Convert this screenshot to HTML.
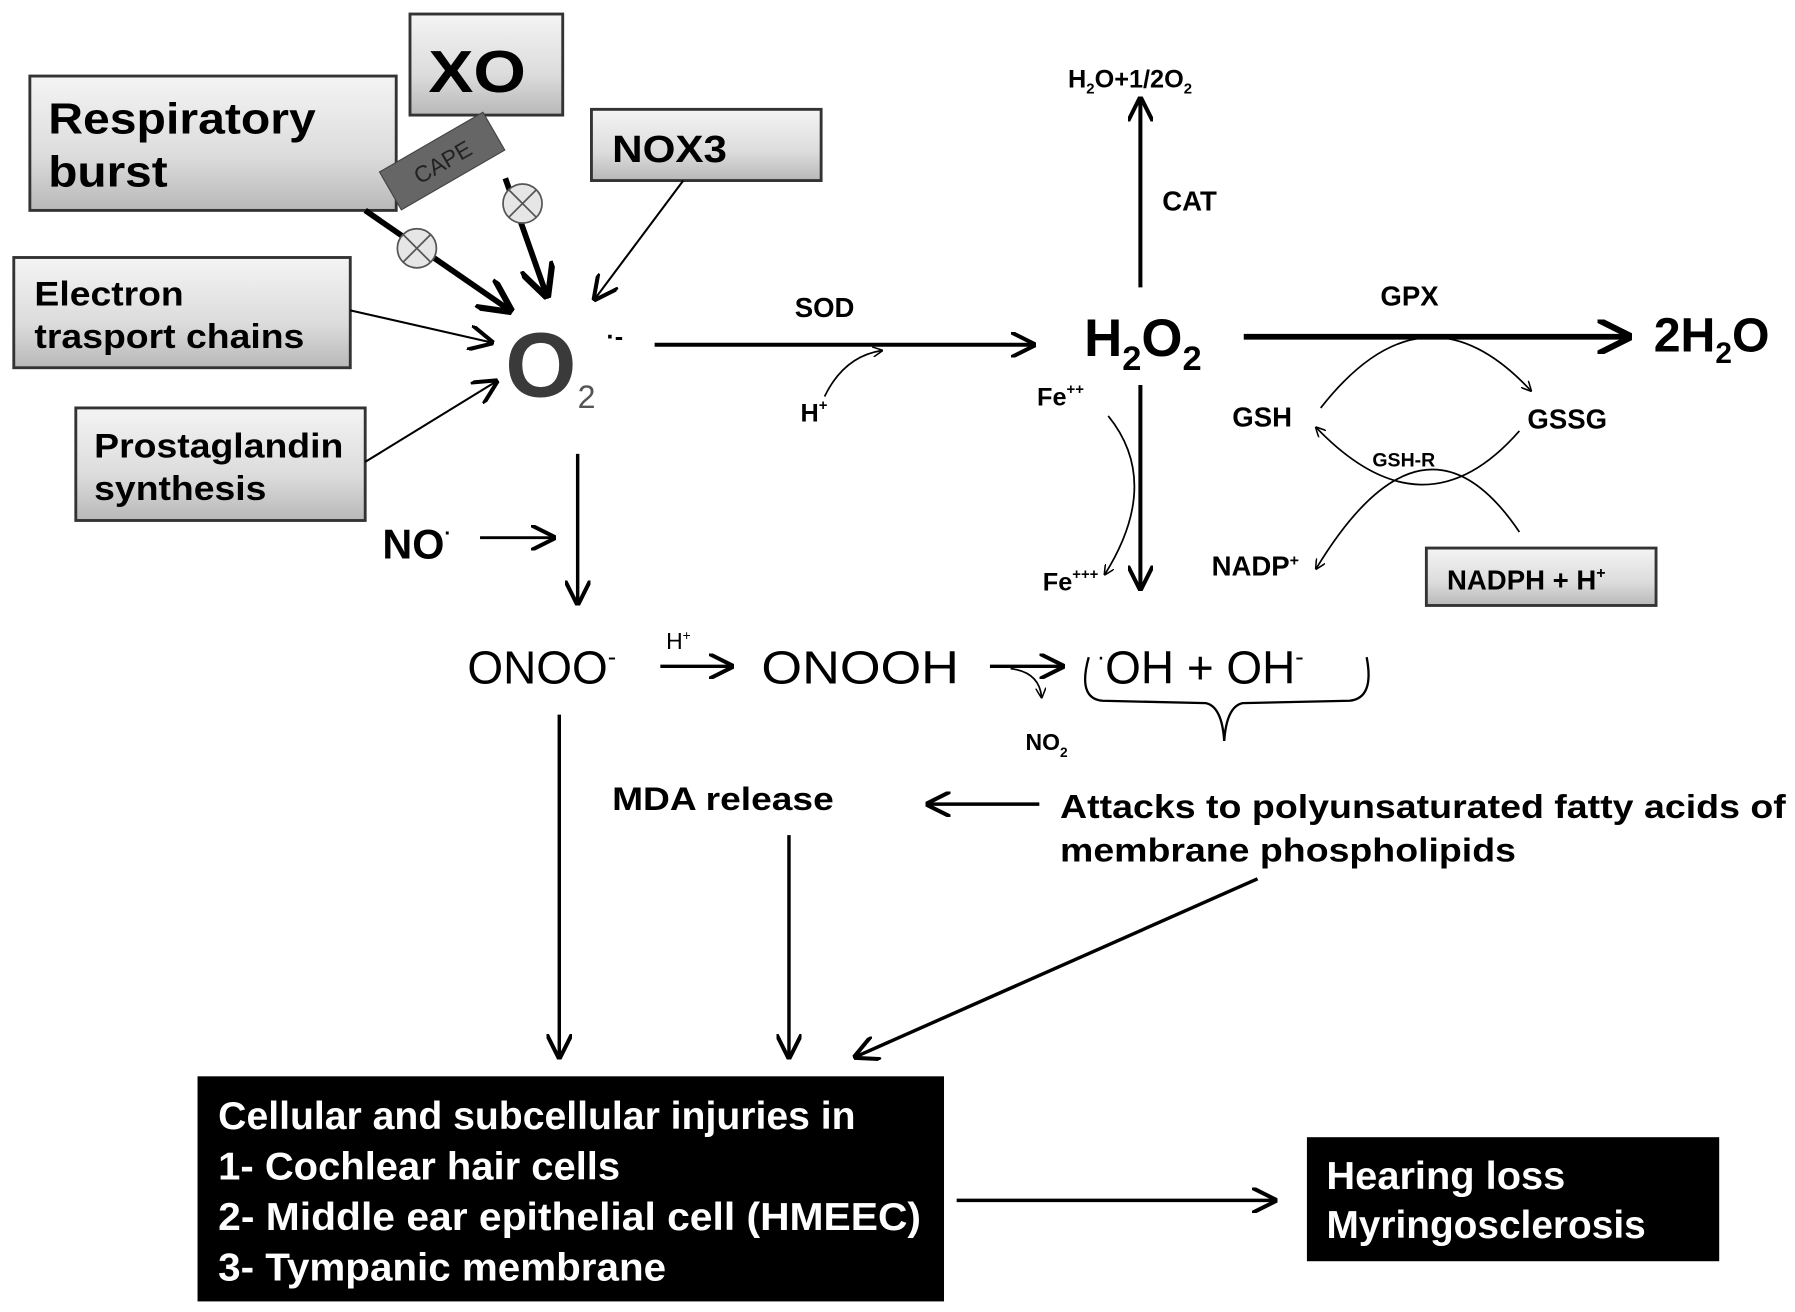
<!DOCTYPE html>
<html><head><meta charset="utf-8"><style>
html,body{margin:0;padding:0;background:#fff;}
svg{display:block;}
text{font-family:"Liberation Sans",Arial,sans-serif;}
.b{font-weight:bold;}
</style></head><body>
<svg width="1795" height="1312" viewBox="0 0 1563 1142" xmlns="http://www.w3.org/2000/svg">
<defs>
<linearGradient id="g" x1="0" y1="0" x2="0" y2="1">
<stop offset="0" stop-color="#f4f4f4"/><stop offset="0.6" stop-color="#dcdcdc"/><stop offset="1" stop-color="#b8b8b8"/>
</linearGradient>
<marker id="a" viewBox="0 0 10 10" refX="9" refY="5" markerWidth="9" markerHeight="9" markerUnits="userSpaceOnUse" orient="auto"><path d="M0,0 L10,5 L0,10" fill="none" stroke="#000" stroke-width="1.5"/></marker>
<marker id="am" viewBox="0 0 10 10" refX="9" refY="5" markerWidth="22" markerHeight="22" markerUnits="userSpaceOnUse" orient="auto"><path d="M0,0 L10,5 L0,10" fill="none" stroke="#000" stroke-width="1.6"/></marker>
<marker id="ab" viewBox="0 0 10 10" refX="9" refY="5" markerWidth="30" markerHeight="30" markerUnits="userSpaceOnUse" orient="auto"><path d="M0,0 L10,5 L0,10" fill="none" stroke="#000" stroke-width="1.8"/></marker>
</defs>
<g stroke="#333" stroke-width="2.5" fill="url(#g)">
<rect x="357" y="12" width="133" height="88"/>
<rect x="26" y="66" width="319" height="117"/>
<rect x="515" y="95" width="200" height="62"/>
<rect x="12" y="224" width="293" height="96"/>
<rect x="66" y="355" width="252" height="98"/>
<rect x="1242" y="477" width="200" height="50"/>
</g>
<g lengthAdjust="spacingAndGlyphs">
<text class="b" x="373" y="80" font-size="52" textLength="85" lengthAdjust="spacingAndGlyphs">XO</text>
<text class="b" x="42" y="116" font-size="38" textLength="233" lengthAdjust="spacingAndGlyphs">Respiratory</text>
<text class="b" x="42" y="162" font-size="38" textLength="104" lengthAdjust="spacingAndGlyphs">burst</text>
<text class="b" x="533" y="141" font-size="33" textLength="100" lengthAdjust="spacingAndGlyphs">NOX3</text>
<text class="b" x="30" y="266" font-size="30" textLength="130" lengthAdjust="spacingAndGlyphs">Electron</text>
<text class="b" x="30" y="303" font-size="30" textLength="235" lengthAdjust="spacingAndGlyphs">trasport chains</text>
<text class="b" x="82" y="398" font-size="30" textLength="217" lengthAdjust="spacingAndGlyphs">Prostaglandin</text>
<text class="b" x="82" y="435" font-size="30" textLength="150" lengthAdjust="spacingAndGlyphs">synthesis</text>
</g>
<line x1="318" y1="183" x2="444" y2="270" stroke="#000" stroke-width="5" marker-end="url(#ab)"/>
<line x1="440" y1="155" x2="476" y2="257" stroke="#000" stroke-width="5" marker-end="url(#ab)"/>
<g transform="rotate(-30 385 140)"><rect x="333" y="121" width="104" height="38" fill="#666" stroke="#444"/>
<text x="385" y="148" font-size="20" text-anchor="middle" fill="#222">CAPE</text></g>
<g stroke="#555" stroke-width="1.5" fill="#e6e6e6">
<circle cx="363" cy="216" r="17"/><circle cx="455" cy="177" r="17"/></g>
<g stroke="#555" stroke-width="1.5">
<line x1="351" y1="204" x2="375" y2="228"/><line x1="375" y1="204" x2="351" y2="228"/>
<line x1="443" y1="165" x2="467" y2="189"/><line x1="467" y1="165" x2="443" y2="189"/></g>
<g stroke="#000" stroke-width="1.8" fill="none">
<line x1="595" y1="157" x2="518" y2="260" marker-end="url(#am)"/>
<line x1="305" y1="270" x2="428" y2="298" marker-end="url(#am)"/>
<line x1="318" y1="402" x2="432" y2="332" marker-end="url(#am)"/>
</g>
<text class="b" x="440" y="345" font-size="80" fill="#3a3a3a" textLength="62" lengthAdjust="spacingAndGlyphs">O</text>
<text x="503" y="355" font-size="28" fill="#555">2</text>
<text class="b" x="528" y="300" font-size="22">·-</text>
<text class="b" x="333" y="486" font-size="36">NO<tspan font-size="18" dy="-16">·</tspan></text>
<g stroke="#000" fill="none">
<line x1="418" y1="468" x2="482" y2="468" stroke-width="2.5" marker-end="url(#am)"/>
<line x1="503" y1="395" x2="503" y2="525" stroke-width="3" marker-end="url(#am)"/>
<line x1="570" y1="300" x2="900" y2="300" stroke-width="3.5" marker-end="url(#am)"/>
<path d="M718,345 Q735,310 768,305" stroke-width="1.5" marker-end="url(#a)"/>
<line x1="993" y1="250" x2="993" y2="86" stroke-width="3.5" marker-end="url(#am)"/>
<line x1="1083" y1="293" x2="1418" y2="293" stroke-width="5" marker-end="url(#ab)"/>
<line x1="993" y1="335" x2="993" y2="512" stroke-width="3.5" marker-end="url(#am)"/>
<path d="M965,362 Q1012,420 962,500" stroke-width="1.5" marker-end="url(#a)"/>
<path d="M1150,355 Q1240,240 1333,340" stroke-width="1.5" marker-end="url(#a)"/>
<path d="M1323,375 Q1240,470 1146,372" stroke-width="1.5" marker-end="url(#a)"/>
<path d="M1323,463 Q1240,340 1146,495" stroke-width="1.5" marker-end="url(#a)"/>
<line x1="575" y1="580" x2="637" y2="580" stroke-width="3" marker-end="url(#am)"/>
<line x1="862" y1="580" x2="925" y2="580" stroke-width="3" marker-end="url(#am)"/>
<path d="M880,582 Q905,585 907,607" stroke-width="1.5" marker-end="url(#a)"/>
<path d="M948,572 Q938,608 960,610 L1050,612 Q1064,615 1066,645 Q1068,615 1082,612 L1175,610 Q1197,608 1190,572" stroke-width="2"/>
<line x1="905" y1="700" x2="808" y2="700" stroke-width="3" marker-end="url(#am)"/>
<line x1="487" y1="622" x2="487" y2="920" stroke-width="3" marker-end="url(#am)"/>
<line x1="687" y1="727" x2="687" y2="920" stroke-width="3" marker-end="url(#am)"/>
<line x1="1095" y1="765" x2="745" y2="920" stroke-width="3" marker-end="url(#am)"/>
<line x1="833" y1="1045" x2="1110" y2="1045" stroke-width="3" marker-end="url(#am)"/>
</g>
<text class="b" x="697" y="367" font-size="22">H<tspan font-size="13" dy="-10">+</tspan></text>
<text class="b" x="692" y="276" font-size="24">SOD</text>
<text class="b" x="944" y="310" font-size="46">H<tspan font-size="30" dy="12">2</tspan><tspan dy="-12">O</tspan><tspan font-size="30" dy="12">2</tspan></text>
<text class="b" x="1012" y="183" font-size="24">CAT</text>
<text class="b" x="930" y="76" font-size="22">H<tspan font-size="13" dy="5">2</tspan><tspan dy="-5">O+1/2O</tspan><tspan font-size="13" dy="5">2</tspan></text>
<text class="b" x="1202" y="266" font-size="24">GPX</text>
<text class="b" x="1440" y="306" font-size="42">2H<tspan font-size="26" dy="10">2</tspan><tspan dy="-10">O</tspan></text>
<text class="b" x="903" y="353" font-size="22">Fe<tspan font-size="13" dy="-10">++</tspan></text>
<text class="b" x="908" y="514" font-size="22">Fe<tspan font-size="13" dy="-10">+++</tspan></text>
<text class="b" x="1073" y="371" font-size="24">GSH</text>
<text class="b" x="1330" y="373" font-size="24">GSSG</text>
<text class="b" x="1195" y="406" font-size="17">GSH-R</text>
<text class="b" x="1055" y="501" font-size="24">NADP<tspan font-size="14" dy="-9">+</tspan></text>
<text class="b" x="1260" y="513" font-size="24">NADPH + H<tspan font-size="14" dy="-10">+</tspan></text>
<text x="407" y="595" font-size="40">ONOO<tspan font-size="22" dy="-16">-</tspan></text>
<text x="580" y="565" font-size="20">H<tspan font-size="12" dy="-8">+</tspan></text>
<text x="663" y="595" font-size="40" textLength="172" lengthAdjust="spacingAndGlyphs">ONOOH</text>
<text class="b" x="893" y="653" font-size="20">NO<tspan font-size="12" dy="6">2</tspan></text>
<text x="955" y="595" font-size="40"><tspan font-size="22" dy="-16">·</tspan><tspan dy="16">OH + OH</tspan><tspan font-size="22" dy="-16">-</tspan></text>
<text class="b" x="533" y="705" font-size="28" textLength="193" lengthAdjust="spacingAndGlyphs">MDA release</text>
<text class="b" x="923" y="712" font-size="29" textLength="632" lengthAdjust="spacingAndGlyphs">Attacks to polyunsaturated fatty acids of</text>
<text class="b" x="923" y="750" font-size="29" textLength="397" lengthAdjust="spacingAndGlyphs">membrane phospholipids</text>
<rect x="172" y="937" width="650" height="196" fill="#000"/>
<g fill="#fff" font-size="34" font-weight="bold">
<text x="190" y="983" textLength="555" lengthAdjust="spacingAndGlyphs">Cellular and subcellular injuries in</text>
<text x="190" y="1027" textLength="350" lengthAdjust="spacingAndGlyphs">1- Cochlear hair cells</text>
<text x="190" y="1071" textLength="612" lengthAdjust="spacingAndGlyphs">2- Middle ear epithelial cell (HMEEC)</text>
<text x="190" y="1115" textLength="390" lengthAdjust="spacingAndGlyphs">3- Tympanic membrane</text></g>
<rect x="1138" y="990" width="359" height="108" fill="#000"/>
<g fill="#fff" font-size="34" font-weight="bold"><text x="1155" y="1035" textLength="208" lengthAdjust="spacingAndGlyphs">Hearing loss</text><text x="1155" y="1078" textLength="278" lengthAdjust="spacingAndGlyphs">Myringosclerosis</text></g>
</svg>
</body></html>
